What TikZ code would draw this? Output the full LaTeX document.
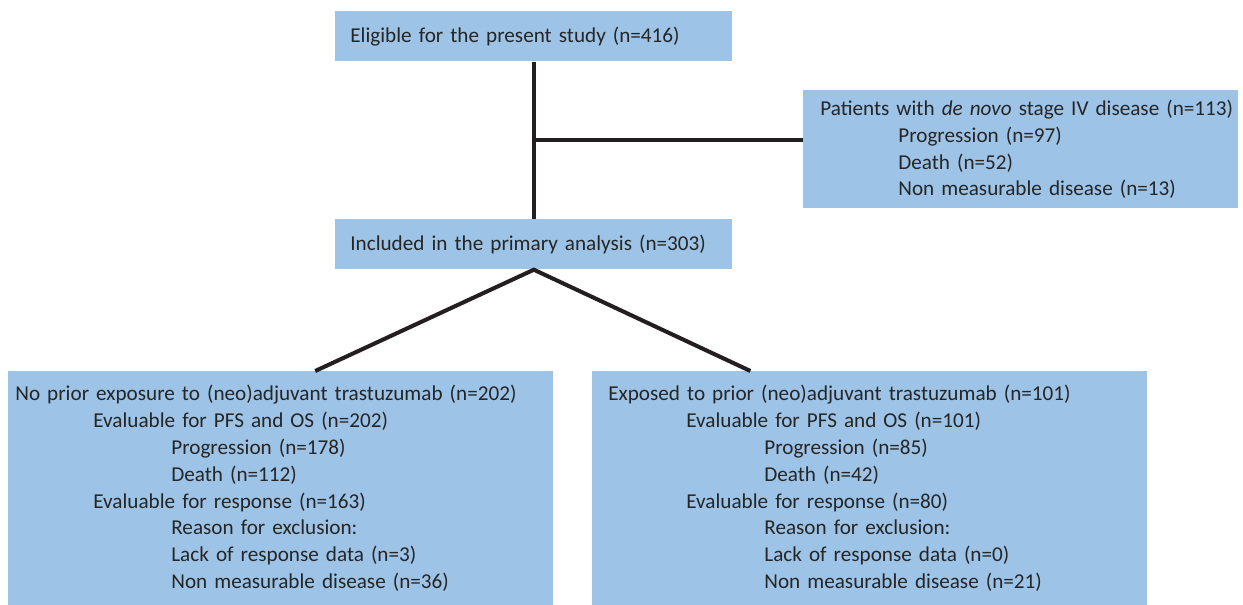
\documentclass[tikz,border=0pt]{standalone}
\usepackage{xcolor}
\usepackage{tikz}
\usepackage{fontspec}
\setmainfont{Carlito}
\usetikzlibrary{positioning, calc}
\definecolor{boxblue}{RGB}{157,195,230}
\definecolor{linedark}{RGB}{35,31,32}
\newcommand{\indA}{\hspace*{1.56cm}}
\newcommand{\indB}{\hspace*{3.12cm}}
\tikzset{
        flowbox/.style={rectangle, fill=boxblue, text=black!85, anchor=north west, align=left, inner ysep=0pt, font=\fontsize{12.05pt}{15.25pt}\selectfont},
        link/.style={draw=linedark, line width=2.3pt},
    }
\begin{document}
\begin{tikzpicture}
        \useasboundingbox (0,0) rectangle (24.86,12.10);

        % top of the flow
        \node[flowbox, inner xsep=0.30cm, text width=7.34cm, minimum height=1.00cm] (eligible) at (6.70,11.88) {Eligible for the present study (n=416)};
        \node[flowbox, inner xsep=0.30cm, text width=7.34cm, minimum height=1.00cm] (included) at (6.70,7.72) {Included in the primary analysis (n=303)};

        % excluded patients
        \node[flowbox, inner xsep=0.34cm, text width=8.02cm, minimum height=2.36cm] (denovo) at (16.06,10.30) {\mbox{Patients with \textit{de novo} stage IV disease (n=113)}\\
            \indA Progression (n=97)\\
            \indA Death (n=52)\\
            \indA Non measurable disease (n=13)};

        % the two groups
        \node[flowbox, inner xsep=0.14cm, text width=10.62cm, minimum height=4.68cm] (noprior) at (0.16,4.68) {No prior exposure to (neo)adjuvant trastuzumab (n=202)\\
            \indA Evaluable for PFS and OS (n=202)\\
            \indB Progression (n=178)\\
            \indB Death (n=112)\\
            \indA Evaluable for response (n=163)\\
            \indB Reason for exclusion:\\
            \indB Lack of response data (n=3)\\
            \indB Non measurable disease (n=36)};
        \node[flowbox, inner xsep=0.32cm, text width=10.46cm, minimum height=4.68cm] (exposed) at (11.84,4.68) {Exposed to prior (neo)adjuvant trastuzumab (n=101)\\
            \indA Evaluable for PFS and OS (n=101)\\
            \indB Progression (n=85)\\
            \indB Death (n=42)\\
            \indA Evaluable for response (n=80)\\
            \indB Reason for exclusion:\\
            \indB Lack of response data (n=0)\\
            \indB Non measurable disease (n=21)};

        % connectors
        \coordinate (split) at ($(eligible.south)!0.5!(included.north)$);
        \coordinate (leftfoot) at ($(noprior.north west)!0.563!(noprior.north east)$);
        \coordinate (rightfoot) at ($(exposed.north west)!0.285!(exposed.north east)$);
        \draw[link] (eligible.south) -- (included.north);
        \draw[link] (split) -- (split -| denovo.west);
        \draw[link] (leftfoot) -- (included.south) -- (rightfoot);
    \end{tikzpicture}
\end{document}
